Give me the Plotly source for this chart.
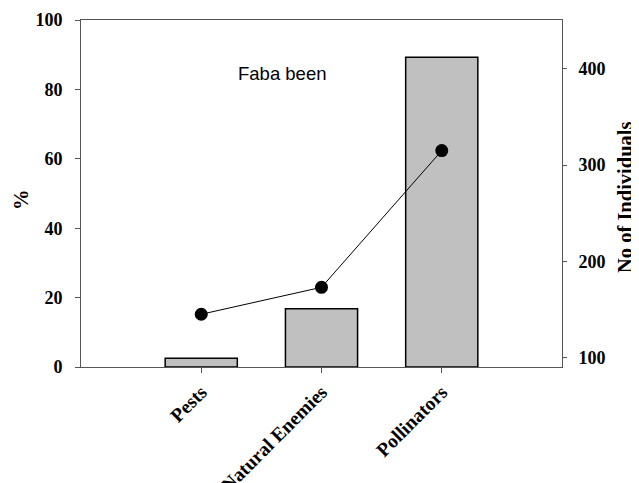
import plotly.graph_objects as go

categories = ["Pests", "Natural Enemies", "Pollinators"]
percent_values = [2.5, 16.8, 89.3]
individuals = [145, 173, 315]
left_ticks = [0, 20, 40, 60, 80, 100]
right_ticks = [100, 200, 300, 400]

serif = "Liberation Serif, Times New Roman, serif"
axis_col = "#555555"

# page body has an 8px default margin; compensate so the plot lands where the reference has it
OFF = 8
W, H = 639 - OFF, 483 - OFF
l, t = 81 - OFF, 20 - OFF
pw, ph = 481, 347
r = W - l - pw
b = H - t - ph

fig = go.Figure()
fig.add_trace(go.Bar(
    x=categories, y=percent_values, width=0.6,
    marker=dict(color="#c0c0c0", line=dict(color="black", width=1.5)),
    yaxis="y", showlegend=False,
))
fig.add_trace(go.Scatter(
    x=categories, y=individuals, mode="lines+markers",
    line=dict(color="black", width=1),
    marker=dict(color="black", size=13),
    yaxis="y2", showlegend=False,
))

tickfont = dict(family=serif, size=18, color="black", weight="bold")
xtickfont = dict(family=serif, size=19.5, color="black", weight="bold")


def px_to_paper(x, y):
    return (x - 81) / pw, 1 - (y - 20) / ph


px1, py1 = px_to_paper(21, 200)
px2, py2 = px_to_paper(625, 197)

fig.update_layout(
    width=W, height=H,
    margin=dict(l=l, r=r, t=t, b=b, autoexpand=False),
    plot_bgcolor="white", paper_bgcolor="white",
    xaxis=dict(
        type="category", range=[-1, 3],
        showline=True, linecolor=axis_col, linewidth=1, mirror=True,
        ticks="outside", ticklen=5, tickcolor=axis_col,
        tickangle=-45, tickfont=xtickfont, showgrid=False, zeroline=False,
    ),
    yaxis=dict(
        range=[0, 100], tickvals=left_ticks,
        showline=True, linecolor=axis_col, linewidth=1,
        ticks="outside", ticklen=5, tickcolor=axis_col, ticklabelstandoff=9,
        tickfont=tickfont, showgrid=False, zeroline=False,
    ),
    yaxis2=dict(
        overlaying="y", side="right", range=[90.2, 450.7], tickvals=right_ticks,
        showline=True, linecolor=axis_col, linewidth=1,
        ticks="outside", ticklen=4, tickcolor=axis_col, ticklabelstandoff=8,
        tickfont=tickfont, showgrid=False, zeroline=False,
    ),
    annotations=[
        dict(text="Faba been", x=0.675, y=84.6, xref="x", yref="y",
             xanchor="center", yanchor="middle", showarrow=False,
             font=dict(family="Liberation Sans, Arial, sans-serif", size=18.5, color="black")),
        dict(text="%", x=px1, y=py1, xref="paper", yref="paper",
             xanchor="center", yanchor="middle", showarrow=False, textangle=-90,
             font=dict(family=serif, size=20.5, color="black", weight="bold")),
        dict(text="No of Individuals", x=px2, y=py2, xref="paper", yref="paper",
             xanchor="center", yanchor="middle", showarrow=False, textangle=-90,
             font=dict(family=serif, size=20.5, color="black", weight="bold")),
    ],
)

fig.write_html("out.html")
